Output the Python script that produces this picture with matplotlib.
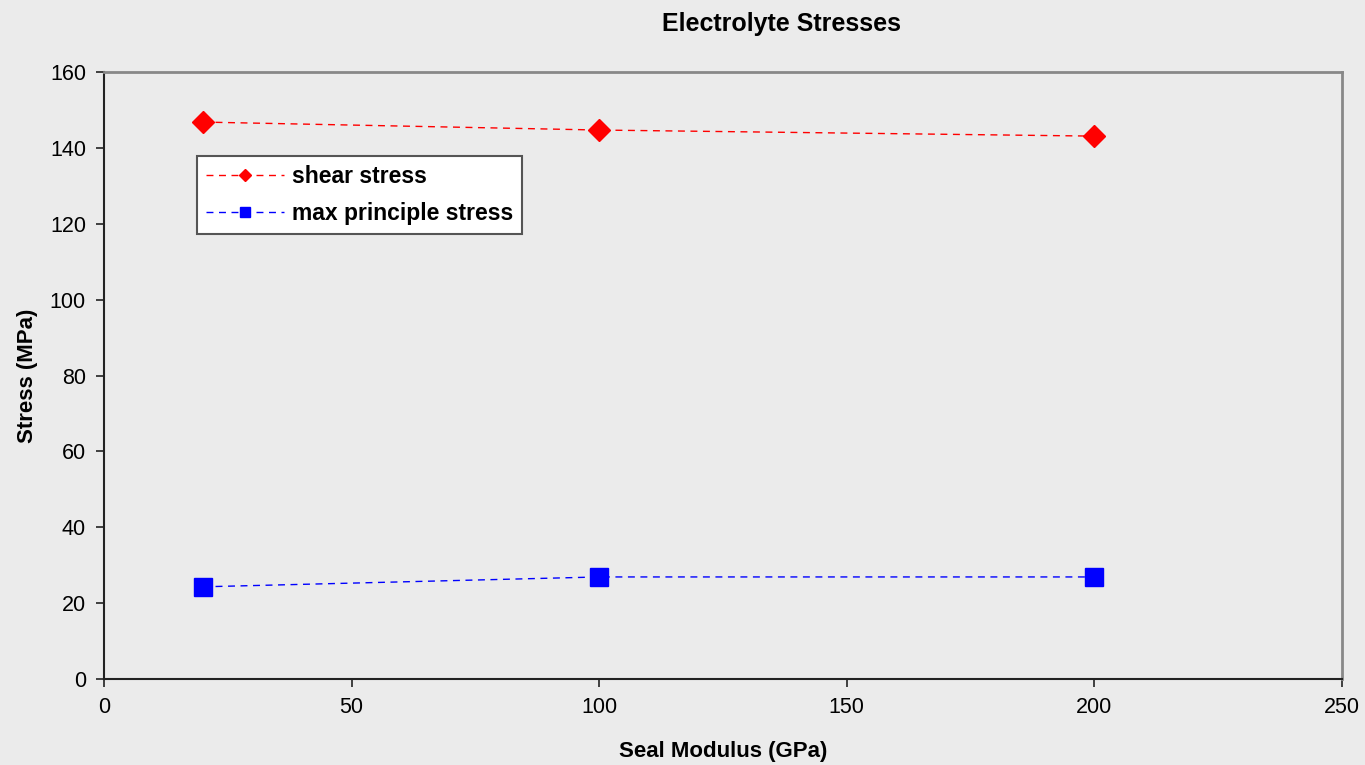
import matplotlib
matplotlib.use("Agg")
import matplotlib.pyplot as plt

modulus = [20, 100, 200]
shear = [146.8, 144.7, 143.1]
principle = [24.3, 26.9, 26.9]
xticks = [0, 50, 100, 150, 200, 250]
yticks = [0, 20, 40, 60, 80, 100, 120, 140, 160]

plt.rcParams['font.family'] = ['Liberation Sans', 'DejaVu Sans']

bg = '#ebebeb'
fig = plt.figure(figsize=(13.65, 7.65), dpi=100, facecolor=bg)
ax = fig.add_axes([104/1365, 1 - 679/765, (1342-104)/1365, (679-72)/765])
ax.set_facecolor(bg)

ax.plot(modulus, shear, color='red', ls=(0, (5, 4)), lw=1, marker='D', ms=11,
        mec='red', label='shear stress')
ax.plot(modulus, principle, color='blue', ls=(0, (5, 4)), lw=1, marker='s', ms=13,
        mec='blue', label='max principle stress')

ax.set_xlim(0, 250)
ax.set_ylim(0, 160)
ax.set_xticks(xticks)
ax.set_yticks(yticks)
ax.tick_params(direction='out', length=6, width=1.2, color='#222222',
               labelsize=15.5, pad=7)

for side in ['left', 'bottom']:
    ax.spines[side].set_color('#222222')
    ax.spines[side].set_linewidth(1.5)
for side in ['top', 'right']:
    ax.spines[side].set_color('#888888')
    ax.spines[side].set_linewidth(2)

ax.set_xlabel('Seal Modulus (GPa)', fontsize=16, fontweight='bold')
ax.xaxis.set_label_coords(0.5, (679-752)/607)
ax.xaxis.label.set_va('center')
ax.set_ylabel('Stress (MPa)', fontsize=16, fontweight='bold')
ax.yaxis.set_label_coords((27-104)/1238, 0.5)
ax.yaxis.label.set_va('center')
fig.text(781/1365, 1 - 24/765, 'Electrolyte Stresses', fontsize=18,
         fontweight='bold', ha='center', va='center')

leg = ax.legend(loc='upper left', bbox_to_anchor=((197-104)/1238, (679-156)/607),
                prop={'weight': 'bold', 'size': 16.5}, markerscale=0.6,
                frameon=True, fancybox=False, handlelength=3.4, borderpad=0.38,
                labelspacing=0.62, handletextpad=0.35, borderaxespad=0)
leg.get_frame().set_edgecolor('#555555')
leg.get_frame().set_linewidth(1.5)
leg.get_frame().set_facecolor('white')
leg.get_frame().set_alpha(1)

fig.savefig('out.png', dpi=100, facecolor=bg)
